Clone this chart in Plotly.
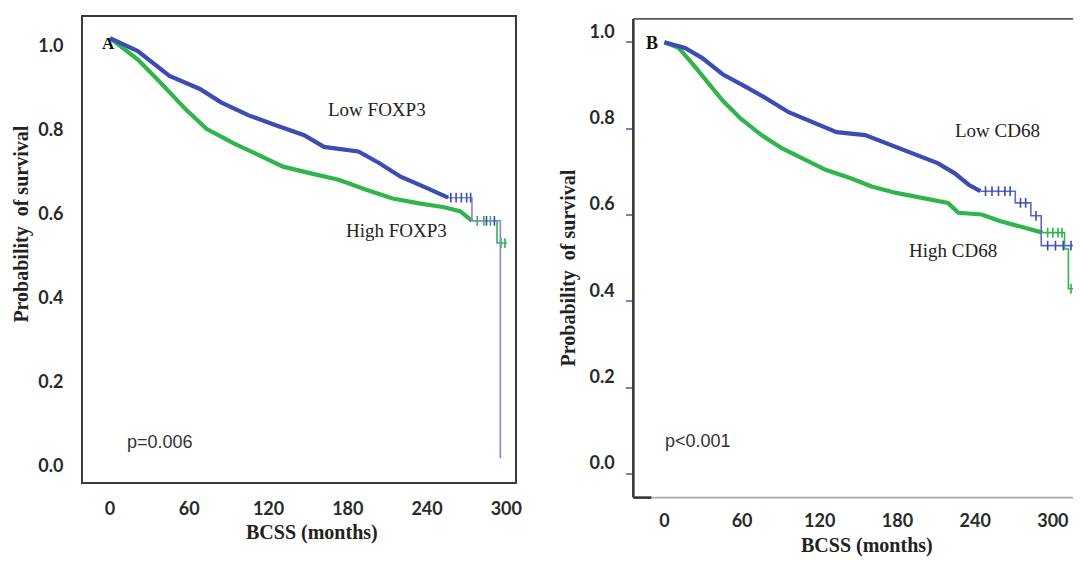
import numpy as np
import plotly.graph_objects as go

# ---------------- data ----------------
# Panel A: FOXP3
a_low_t = [0, 21, 45, 68, 84, 105, 126, 147, 162, 188, 204, 220, 240, 256, 274, 295.5]
a_low_s = [1.0, 0.969, 0.910, 0.879, 0.847, 0.816, 0.792, 0.769, 0.741, 0.730, 0.702, 0.670, 0.643, 0.620, 0.565, 0.0]
a_low_end = 295.5
a_low_dense_until = 256
a_low_censor = [258, 262, 266, 270, 273, 285, 291]

a_high_t = [0, 21, 37, 58, 73, 94, 115, 131, 152, 173, 194, 214, 235, 252, 265, 274, 293]
a_high_s = [1.0, 0.949, 0.898, 0.828, 0.784, 0.749, 0.718, 0.694, 0.678, 0.663, 0.639, 0.618, 0.606, 0.598, 0.588, 0.565, 0.512]
a_high_end = 300.5
a_high_dense_until = 274
a_high_censor = [278, 283, 288, 296, 299]

# Panel B: CD68
b_low_t = [0, 16, 29, 45, 64, 77, 96, 115, 133, 155, 171, 192, 211, 224, 235, 244, 271, 283, 291]
b_low_s = [1.0, 0.987, 0.964, 0.926, 0.895, 0.873, 0.838, 0.815, 0.792, 0.785, 0.766, 0.743, 0.720, 0.697, 0.670, 0.655, 0.628, 0.598, 0.529]
b_low_end = 319
b_low_dense_until = 244
b_low_censor = [248, 253, 258, 263, 267, 275, 279, 287, 296, 302, 308, 314, 318]

b_high_t = [0, 11, 21, 32, 45, 59, 75, 91, 107, 125, 144, 160, 179, 198, 219, 227, 245, 259, 292, 309, 312]
b_high_s = [1.0, 0.987, 0.953, 0.911, 0.865, 0.823, 0.785, 0.754, 0.731, 0.704, 0.685, 0.666, 0.651, 0.639, 0.628, 0.605, 0.601, 0.586, 0.559, 0.521, 0.429]
b_high_end = 320
b_high_dense_until = 292
b_high_censor = [296, 300, 304, 307, 314, 318]

x_ticks = [0, 60, 120, 180, 240, 300]
y_ticks = [0.0, 0.2, 0.4, 0.6, 0.8, 1.0]
y_ticktext = ["0.0", "0.2", "0.4", "0.6", "0.8", "1.0"]

BLUE = "#3b4db3"
BLUE_THIN = "#5a6ac6"
GREEN = "#2fb54a"

W, H = 1081, 561


def fx(x):
    return (x - 8) / 0.993


def fy(y):
    return (y - 3) / 1.011


def px(x):
    return min(max(fx(x) / W, 0), 1)


def py(y):
    return min(max(1 - fy(y) / H, 0), 1)


def step_at(t_arr, s_arr, t):
    i = np.searchsorted(np.asarray(t_arr), t, side="right") - 1
    return s_arr[max(i, 0)]


def km_traces(t, s, t_end, dense_until, censor, color, thin_color, xa, ya):
    out = []
    s0 = step_at(t, s, dense_until)
    tt = [dense_until] + [v for v in t if v > dense_until] + [t_end]
    ss = [s0] + [s[i] for i, v in enumerate(t) if v > dense_until] + [s[-1]]
    out.append(go.Scatter(x=tt, y=ss, mode="lines", line=dict(shape="hv", color=thin_color, width=1.6),
                          xaxis=xa, yaxis=ya, showlegend=False, hoverinfo="skip"))
    td = [v for v in t if v <= dense_until] + [dense_until]
    sd = [s[i] for i, v in enumerate(t) if v <= dense_until] + [s0]
    out.append(go.Scatter(x=td, y=sd, mode="lines", line=dict(shape="linear", color=color, width=4.2),
                          xaxis=xa, yaxis=ya, showlegend=False, hoverinfo="skip"))
    cy = [step_at(t, s, c) for c in censor]
    out.append(go.Scatter(x=censor, y=cy, mode="markers",
                          marker=dict(symbol="line-ns", size=7, line=dict(color=color, width=1.6)),
                          xaxis=xa, yaxis=ya, showlegend=False, hoverinfo="skip"))
    return out


fig = go.Figure()
for tr in km_traces(a_high_t, a_high_s, a_high_end, a_high_dense_until, a_high_censor, GREEN, GREEN, "x", "y"):
    fig.add_trace(tr)
for tr in km_traces(a_low_t, a_low_s, a_low_end, a_low_dense_until, a_low_censor, BLUE, "#7f8ad0", "x", "y"):
    fig.add_trace(tr)
for tr in km_traces(b_high_t, b_high_s, b_high_end, b_high_dense_until, b_high_censor, GREEN, GREEN, "x2", "y2"):
    fig.add_trace(tr)
for tr in km_traces(b_low_t, b_low_s, b_low_end, b_low_dense_until, b_low_censor, BLUE, BLUE_THIN, "x2", "y2"):
    fig.add_trace(tr)

tickfont = dict(family="Lato", size=18, color="#2a2a2a", weight="bold")
A_L, A_R, A_T, A_B = 83, 515, 12, 482
B_L, B_R, B_T, B_B = 633, 1081, 14, 498

fig.update_layout(
    width=W, height=H,
    margin=dict(l=0, r=0, t=0, b=0),
    paper_bgcolor="white", plot_bgcolor="white",
    xaxis=dict(domain=[px(A_L), px(A_R)], range=[-20.45, 306.8], anchor="y",
               tickvals=x_ticks, ticktext=[str(v) for v in x_ticks], tickfont=tickfont,
               showgrid=False, zeroline=False, showline=True, linecolor="#3a3a3a", linewidth=2,
               mirror=True, ticks="", ticklabelstandoff=10),
    yaxis=dict(domain=[py(A_B), py(A_T)], range=[-0.0565, 1.0506], anchor="x",
               tickvals=y_ticks, ticktext=y_ticktext, tickfont=tickfont,
               showgrid=False, zeroline=False, showline=True, linecolor="#3a3a3a", linewidth=2,
               mirror=True, ticks="", ticklabelstandoff=14, ticklabelshift=8),
    xaxis2=dict(domain=[px(B_L), 1.0], range=[-23.97, 322.5], anchor="y2",
                tickvals=x_ticks, ticktext=[str(v) for v in x_ticks], tickfont=tickfont,
                showgrid=False, zeroline=False, showline=False, ticks="", ticklabelstandoff=10),
    yaxis2=dict(domain=[py(B_B), py(B_T)], range=[-0.055, 1.0543], anchor="x2",
                tickvals=y_ticks, ticktext=y_ticktext, tickfont=tickfont,
                showgrid=False, zeroline=False, showline=False,
                ticks="outside", ticklen=6, tickwidth=1.5, tickcolor="#7282c4",
                ticklabelstandoff=8, ticklabelshift=-11),
)

shapes = [
    dict(type="line", xref="paper", yref="paper", x0=px(B_L), x1=px(B_L), y0=py(B_B), y1=py(B_T),
         line=dict(color="#333333", width=2.5)),
    dict(type="line", xref="paper", yref="paper", x0=px(B_L), x1=1.0, y0=py(B_T), y1=py(B_T),
         line=dict(color="#555555", width=1.6)),
    dict(type="line", xref="paper", yref="paper", x0=px(B_L), x1=1.0, y0=py(B_B), y1=py(B_B),
         line=dict(color="#a8a8a8", width=1.6)),
    dict(type="line", xref="paper", yref="paper", x0=px(B_L), x1=px(B_L + 18), y0=py(B_B), y1=py(B_B),
         line=dict(color="#333333", width=2.5)),
]
fig.update_layout(shapes=shapes)

serif = "Liberation Serif"
ann = []
ann.append(dict(x=px(108), y=py(39), text="<b>A</b>", font=dict(family=serif, size=17, color="#111")))
ann.append(dict(x=px(652), y=py(38), text="<b>B</b>", font=dict(family=serif, size=18, color="#111")))
ann.append(dict(x=px(377), y=py(106), text="Low FOXP3", font=dict(family=serif, size=19, color="#222")))
ann.append(dict(x=px(396), y=py(228), text="High FOXP3", font=dict(family=serif, size=19, color="#222")))
ann.append(dict(x=px(997), y=py(127), text="Low CD68", font=dict(family=serif, size=19, color="#222")))
ann.append(dict(x=px(953), y=py(248), text="High CD68", font=dict(family=serif, size=19, color="#222")))
ann.append(dict(x=px(160), y=py(442), text="p=0.006", font=dict(family="Liberation Sans", size=18, color="#333")))
ann.append(dict(x=px(698), y=py(441), text="p<0.001", font=dict(family="Liberation Sans", size=18, color="#333")))
ann.append(dict(x=px(312), y=py(533), text="<b>BCSS (months)</b>", font=dict(family=serif, size=20, color="#222")))
ann.append(dict(x=px(867), y=py(546), text="<b>BCSS (months)</b>", font=dict(family=serif, size=20, color="#222")))
ann.append(dict(x=px(22), y=py(222), text="<b>Probability  of survival</b>", textangle=-90,
                font=dict(family=serif, size=20, color="#222")))
ann.append(dict(x=px(568), y=py(266), text="<b>Probability  of survival</b>", textangle=-90,
                font=dict(family=serif, size=20, color="#222")))
for a in ann:
    a.update(xref="paper", yref="paper", showarrow=False, xanchor="center", yanchor="middle")
fig.update_layout(annotations=ann)

fig.write_html("out.html")
